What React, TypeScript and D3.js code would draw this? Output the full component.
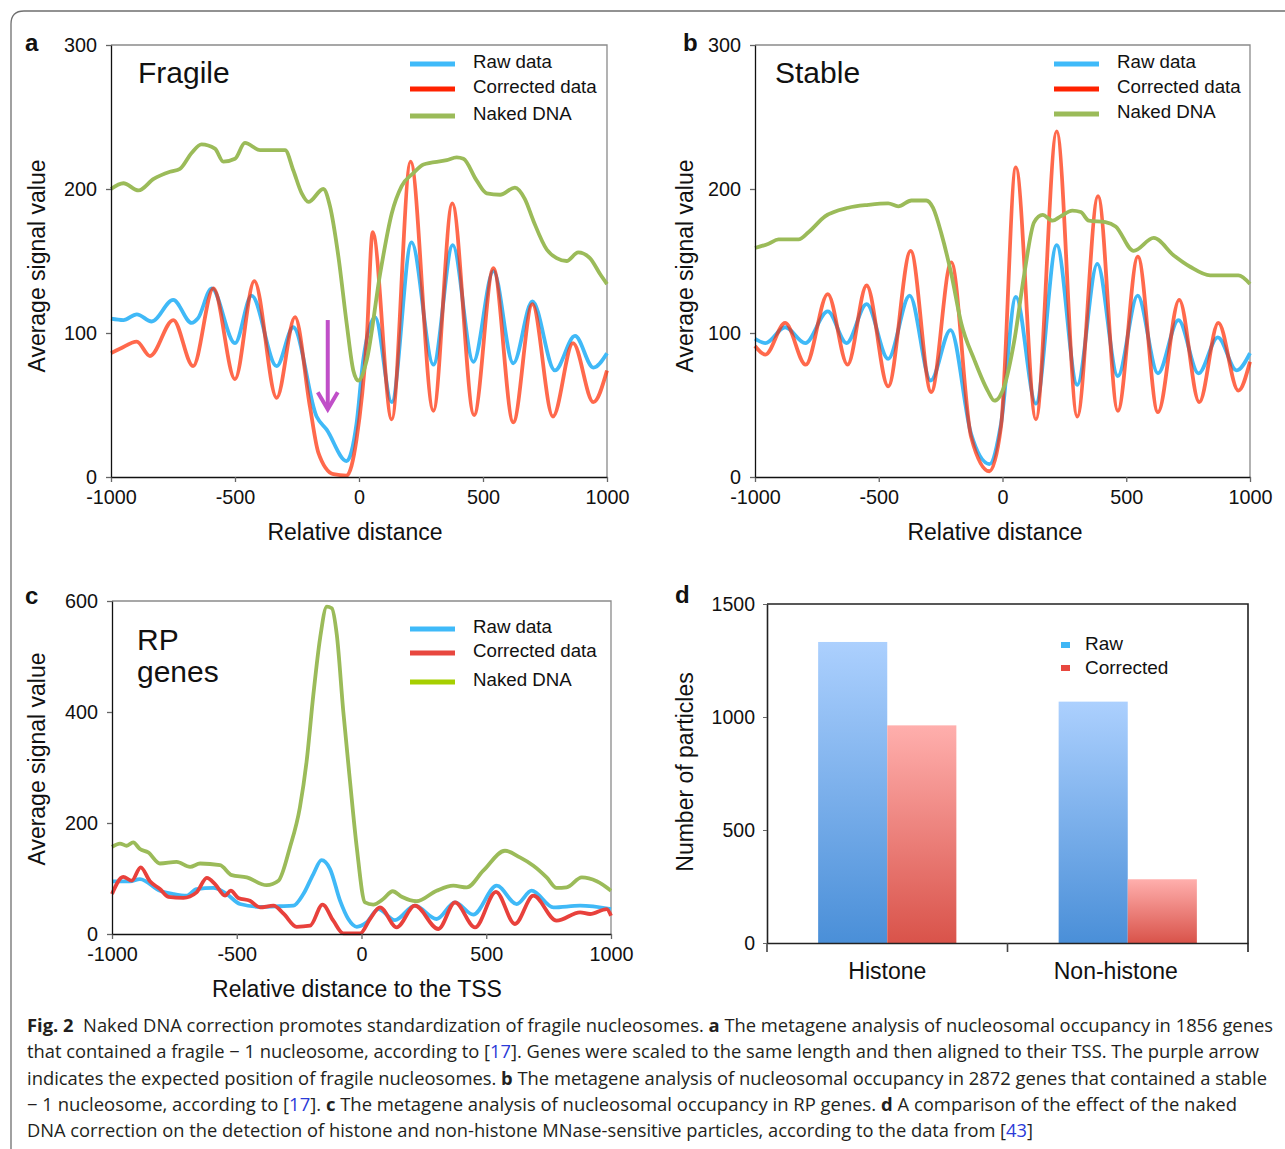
import React, { useEffect, useRef } from 'react';
import * as d3 from 'd3';

type Pt = [number, number];

// ---- data ----
const distanceTicks = [-1000, -500, 0, 500, 1000];
const signalTicksSmall = [0, 100, 200, 300];
const signalTicksLarge = [0, 200, 400, 600];
const lineLegend = ['Raw data', 'Corrected data', 'Naked DNA'];

const fragileRaw: Pt[] = [[-1000,110],[-950,109],[-896,113],[-836,108],[-749,123],[-675,107],[-650,110],[-594,131],[-500,93],[-433,126],[-332,77],[-265,104],[-171,42],[-131,33],[-50,11],[-10,37],[17,81],[65,111],[132,52],[212,163],[300,78],[378,161],[461,80],[542,143],[622,79],[699,122],[790,74],[871,98],[945,76],[1000,86]];
const fragileCorrected: Pt[] = [[-1000,86],[-964,89],[-896,94],[-843,84],[-749,109],[-669,77],[-587,131],[-500,68],[-422,136],[-332,55],[-258,111],[-198,49],[-164,17],[-103,2],[-50,1],[-10,26],[31,95],[55,170],[132,40],[208,219],[300,46],[376,190],[464,43],[542,145],[622,38],[699,120],[782,42],[863,93],[945,52],[1000,74]];
const fragileNaked: Pt[] = [[-1000,200],[-950,204],[-889,199],[-828,207],[-762,212],[-722,214],[-675,225],[-635,231],[-581,228],[-547,219],[-500,221],[-460,232],[-399,227],[-345,227],[-298,227],[-265,213],[-231,197],[-204,191],[-144,200],[-117,188],[-83,153],[-50,107],[-23,74],[-3,67],[31,81],[85,141],[132,183],[172,202],[219,211],[260,217],[354,220],[394,222],[421,221],[474,206],[515,197],[569,196],[629,201],[669,193],[703,178],[757,158],[797,152],[837,150],[884,156],[931,152],[972,141],[1000,134]];

const stableRaw: Pt[] = [[-1000,96],[-958,93],[-878,104],[-797,93],[-706,115],[-630,93],[-549,120],[-462,82],[-375,126],[-290,67],[-210,102],[-127,30],[-53,9],[-6,37],[54,125],[135,51],[219,161],[302,64],[383,148],[466,70],[546,126],[628,72],[711,109],[792,72],[870,97],[946,74],[1000,86]];
const stableCorrected: Pt[] = [[-1000,91],[-958,85],[-878,107],[-795,78],[-706,127],[-626,78],[-549,133],[-462,63],[-371,157],[-288,59],[-207,149],[-127,28],[-53,4],[-6,35],[54,215],[135,40],[219,240],[302,42],[386,195],[466,46],[547,153],[628,45],[714,123],[795,52],[872,107],[953,60],[1000,80]];
const stableNaked: Pt[] = [[-1000,159],[-945,162],[-905,165],[-824,165],[-784,170],[-717,181],[-623,187],[-542,189],[-462,190],[-421,188],[-368,192],[-308,192],[-281,187],[-247,169],[-207,141],[-167,107],[-113,81],[-60,60],[-33,53],[7,63],[48,95],[88,141],[128,177],[162,182],[202,178],[235,181],[282,185],[316,184],[349,178],[416,177],[457,174],[530,157],[611,166],[691,154],[758,146],[839,140],[953,140],[1000,134]];

const rpRaw: Pt[] = [[-1000,95],[-928,95],[-888,99],[-808,78],[-754,72],[-701,69],[-661,81],[-594,83],[-540,72],[-487,54],[-407,49],[-327,50],[-273,51],[-233,72],[-193,108],[-160,133],[-126,117],[-86,60],[-53,27],[-19,13],[21,21],[67,45],[134,25],[214,51],[301,27],[375,57],[448,35],[542,87],[622,54],[682,78],[769,48],[876,51],[1000,45]];
const rpCorrected: Pt[] = [[-1000,72],[-955,103],[-921,96],[-885,120],[-848,95],[-808,81],[-774,67],[-714,65],[-661,75],[-620,101],[-587,90],[-547,69],[-524,78],[-494,65],[-447,60],[-407,48],[-353,51],[-313,37],[-260,13],[-206,15],[-156,53],[-113,24],[-73,1],[-6,1],[34,27],[74,48],[141,12],[214,51],[308,9],[375,57],[455,12],[539,76],[615,18],[689,69],[782,24],[876,39],[916,36],[983,45],[1000,33]];
const rpNaked: Pt[] = [[-1000,157],[-968,163],[-941,159],[-915,165],[-888,153],[-855,147],[-808,127],[-741,130],[-687,121],[-647,127],[-567,124],[-520,106],[-460,102],[-380,88],[-333,96],[-287,156],[-247,228],[-220,311],[-193,431],[-166,533],[-139,590],[-119,587],[-99,539],[-73,401],[-46,275],[-19,156],[14,57],[47,53],[87,63],[125,77],[161,67],[221,59],[301,78],[368,87],[422,84],[488,114],[575,150],[635,138],[689,123],[742,102],[782,83],[822,84],[883,102],[943,95],[1000,78]];

const particleCategories = ['Histone', 'Non-histone'];
const particleKeys = ['Raw', 'Corrected'];
const particleRaw = [1332, 1068];
const particleCorrected = [963, 282];
const particleTicks = [0, 500, 1000, 1500];

// fragile nucleosome arrow (panel a), in data units
const arrowPos = -126;
const arrowFrom = 109;
const arrowTo = 47;

const FONT = 'Liberation Sans, Arial, Helvetica, sans-serif';
const CAPTION_FONT = 'Open Sans, Noto Sans, sans-serif';

function drawLinePanel(svg: any, o: any) {
    const x = d3.scaleLinear().domain([-1000, 1000]).range([o.left, o.right]);
    const y = d3.scaleLinear().domain([0, o.yMax]).range([o.bottom, o.top]);
    const g = svg.append('g');

    // grey frame (top + right)
    g.append('path')
        .attr('d', `M${o.left},${o.top}H${o.right}V${o.bottom}`)
        .attr('fill', 'none')
        .attr('stroke', '#8a8a8a')
        .attr('stroke-width', 1.3);

    const line = d3.line<Pt>()
        .x(d => x(d[0]))
        .y(d => y(d[1]))
        .curve(d3.curveMonotoneX);

    o.series.forEach((s: any) => {
        g.append('path')
            .datum(s.data)
            .attr('fill', 'none')
            .attr('stroke', s.color)
            .attr('stroke-opacity', s.opacity ?? 1)
            .attr('stroke-width', 3.8)
            .attr('stroke-linejoin', 'round')
            .attr('d', line);
    });

    const xAxis = g.append('g')
        .attr('transform', `translate(0,${o.bottom})`)
        .call(d3.axisBottom(x).tickValues(distanceTicks).tickSize(5).tickSizeOuter(0).tickPadding(8).tickFormat((d: any) => String(d)));
    const yAxis = g.append('g')
        .attr('transform', `translate(${o.left},0)`)
        .call(d3.axisLeft(y).tickValues(o.yTicks).tickSize(5).tickSizeOuter(0).tickPadding(9).tickFormat((d: any) => String(d)));
    [xAxis, yAxis].forEach(a => {
        a.attr('font-family', FONT).attr('font-size', 19.8);
        a.select('.domain').attr('stroke', '#111').attr('stroke-width', 1.3);
        a.selectAll('.tick line').attr('stroke', '#666').attr('stroke-width', 1.3);
        a.selectAll('.tick text').attr('fill', '#111');
    });

    // title inside the plot
    o.title.forEach((t: string, i: number) => {
        g.append('text')
            .attr('x', o.titleX)
            .attr('y', o.titleY + i * 32)
            .attr('font-family', FONT)
            .attr('font-size', 30)
            .attr('fill', '#111')
            .text(t);
    });

    // legend
    lineLegend.forEach((name, i) => {
        g.append('line')
            .attr('x1', o.legendX).attr('x2', o.legendX + 45)
            .attr('y1', o.legendYs[i]).attr('y2', o.legendYs[i])
            .attr('stroke', o.legendColors[i])
            .attr('stroke-width', 5);
        g.append('text')
            .attr('x', o.legendX + 63)
            .attr('y', o.legendYs[i] + 4)
            .attr('font-family', FONT)
            .attr('font-size', 18.7)
            .attr('fill', '#111')
            .text(name);
    });

    // axis titles
    g.append('text')
        .attr('x', o.xTitleX)
        .attr('y', o.bottom + 63)
        .attr('text-anchor', 'middle')
        .attr('font-family', FONT)
        .attr('font-size', 23)
        .attr('fill', '#111')
        .text(o.xTitle);
    g.append('text')
        .attr('transform', `translate(${o.yTitleX},${o.yTitleY}) rotate(-90)`)
        .attr('text-anchor', 'middle')
        .attr('font-family', FONT)
        .attr('font-size', 23)
        .attr('fill', '#111')
        .text('Average signal value');

    // panel letter
    g.append('text')
        .attr('x', o.labelX)
        .attr('y', o.labelY)
        .attr('font-family', FONT)
        .attr('font-size', 24)
        .attr('font-weight', 'bold')
        .attr('fill', '#111')
        .text(o.label);

    return { g, x, y };
}

const App = () => {
    const svgRef = useRef<SVGSVGElement | null>(null);

    useEffect(() => {
        if (!svgRef.current) return;
        const svg = d3.select(svgRef.current);
        svg.selectAll('*').remove();

        svg.append('rect').attr('width', 1285).attr('height', 1149).attr('fill', '#fff');

        // outer figure border
        svg.append('path')
            .attr('d', 'M11,1149V24Q11,11 24,11H1285')
            .attr('fill', 'none')
            .attr('stroke', '#6f6f6f')
            .attr('stroke-width', 1.3);

        const abColors = ['#3fbaf9', '#ff2200', '#9bbb59'];

        const a = drawLinePanel(svg, {
            left: 111, right: 607, top: 45, bottom: 477, yMax: 300, yTicks: signalTicksSmall,
            series: [
                { data: fragileRaw, color: '#40b9f7' },
                { data: fragileCorrected, color: '#ff2a00', opacity: 0.7 },
                { data: fragileNaked, color: '#9bbb59' },
            ],
            title: ['Fragile'], titleX: 138, titleY: 83,
            legendX: 410, legendYs: [64, 89, 116], legendColors: abColors,
            xTitle: 'Relative distance', xTitleX: 355, yTitleX: 45, yTitleY: 266,
            label: 'a', labelX: 25, labelY: 51,
        });

        // purple arrow marking the fragile -1 nucleosome
        const ax = a.x(arrowPos);
        a.g.append('line')
            .attr('x1', ax).attr('x2', ax)
            .attr('y1', a.y(arrowFrom)).attr('y2', a.y(arrowTo) - 3)
            .attr('stroke', '#c04fc8').attr('stroke-width', 4);
        a.g.append('polyline')
            .attr('points', `${ax - 10},${a.y(arrowTo) - 17} ${ax},${a.y(arrowTo)} ${ax + 10},${a.y(arrowTo) - 17}`)
            .attr('fill', 'none')
            .attr('stroke', '#c04fc8').attr('stroke-width', 4);

        drawLinePanel(svg, {
            left: 755, right: 1250, top: 45, bottom: 477, yMax: 300, yTicks: signalTicksSmall,
            series: [
                { data: stableRaw, color: '#40b9f7' },
                { data: stableCorrected, color: '#ff2a00', opacity: 0.7 },
                { data: stableNaked, color: '#9bbb59' },
            ],
            title: ['Stable'], titleX: 775, titleY: 83,
            legendX: 1054, legendYs: [64, 89, 114], legendColors: abColors,
            xTitle: 'Relative distance', xTitleX: 995, yTitleX: 693, yTitleY: 266,
            label: 'b', labelX: 683, labelY: 51,
        });

        drawLinePanel(svg, {
            left: 112, right: 611, top: 601, bottom: 934, yMax: 600, yTicks: signalTicksLarge,
            series: [
                { data: rpRaw, color: '#40b9f7' },
                { data: rpCorrected, color: '#e8413c' },
                { data: rpNaked, color: '#9bbb59' },
            ],
            title: ['RP', 'genes'], titleX: 137, titleY: 650,
            legendX: 410, legendYs: [629, 653, 682], legendColors: ['#3fbaf9', '#e8473f', '#a6cf00'],
            xTitle: 'Relative distance to the TSS', xTitleX: 357, yTitleX: 45, yTitleY: 759,
            label: 'c', labelX: 25, labelY: 604,
        });

        // ---- panel d: grouped bars ----
        const dl = 767, dr = 1248, dt = 604, db = 943;
        const defs = svg.append('defs');
        const grads = [['gradRaw', '#acd0fe', '#4a8fd8'], ['gradCorr', '#ffafad', '#d9534a']];
        grads.forEach(([id, c0, c1]) => {
            const lg = defs.append('linearGradient').attr('id', id).attr('x1', 0).attr('y1', 0).attr('x2', 0).attr('y2', 1);
            lg.append('stop').attr('offset', '0%').attr('stop-color', c0);
            lg.append('stop').attr('offset', '100%').attr('stop-color', c1);
        });

        const x0 = d3.scaleBand().domain(particleCategories).range([dl, dr]).padding(0);
        const x1 = d3.scaleBand().domain(particleKeys).range([0, x0.bandwidth()]).paddingInner(0).paddingOuter(0.74);
        const yd = d3.scaleLinear().domain([0, 1500]).range([db, dt]);
        const gd = svg.append('g');

        gd.append('path')
            .attr('d', `M${dl},${dt}H${dr}V${db + 9}`)
            .attr('fill', 'none')
            .attr('stroke', '#222')
            .attr('stroke-width', 1.6);

        const barValues = [particleRaw, particleCorrected];
        particleCategories.forEach((cat, ci) => {
            particleKeys.forEach((k, ki) => {
                const v = barValues[ki][ci];
                gd.append('rect')
                    .attr('x', (x0(cat) as number) + (x1(k) as number))
                    .attr('y', yd(v))
                    .attr('width', x1.bandwidth())
                    .attr('height', db - yd(v))
                    .attr('fill', `url(#${grads[ki][0]})`);
            });
        });

        const dx = gd.append('g')
            .attr('transform', `translate(0,${db})`)
            .call(d3.axisBottom(x0).tickSize(0).tickPadding(20));
        dx.attr('font-family', FONT).attr('font-size', 23);
        dx.select('.domain').attr('stroke', '#222').attr('stroke-width', 1.6);
        dx.selectAll('.tick text').attr('fill', '#111').attr('dx', (_: any, i: number) => (i === 1 ? -12 : 0));
        // band boundary ticks
        [dl, (dl + dr) / 2].forEach(px => {
            gd.append('line').attr('x1', px).attr('x2', px).attr('y1', db).attr('y2', db + 9)
                .attr('stroke', '#444').attr('stroke-width', 1.6);
        });

        const dy = gd.append('g')
            .attr('transform', `translate(${dl},0)`)
            .call(d3.axisLeft(yd).tickValues(particleTicks).tickSize(4).tickSizeOuter(0).tickPadding(8).tickFormat((d: any) => String(d)));
        dy.attr('font-family', FONT).attr('font-size', 19.5);
        dy.select('.domain').attr('stroke', '#222').attr('stroke-width', 1.6);
        dy.selectAll('.tick line').attr('stroke', '#666');
        dy.selectAll('.tick text').attr('fill', '#111');

        gd.append('text')
            .attr('transform', `translate(693,772) rotate(-90)`)
            .attr('text-anchor', 'middle')
            .attr('font-family', FONT)
            .attr('font-size', 23)
            .attr('fill', '#111')
            .text('Number of particles');

        const legendColorsD = ['#3fb6f5', '#e8483f'];
        particleKeys.forEach((k, i) => {
            gd.append('rect')
                .attr('x', 1061).attr('y', 642 + i * 23)
                .attr('width', 9).attr('height', 6)
                .attr('fill', legendColorsD[i]);
            gd.append('text')
                .attr('x', 1085).attr('y', 650 + i * 24)
                .attr('font-family', FONT)
                .attr('font-size', 19)
                .attr('fill', '#111')
                .text(k);
        });

        gd.append('text')
            .attr('x', 675).attr('y', 603)
            .attr('font-family', FONT)
            .attr('font-size', 24)
            .attr('font-weight', 'bold')
            .attr('fill', '#111')
            .text('d');

        // ---- caption ----
        const captionLines: [string, string][][] = [
            [['b', 'Fig. 2'], ['n', '  Naked DNA correction promotes standardization of fragile nucleosomes. '], ['b', 'a'], ['n', ' The metagene analysis of nucleosomal occupancy in 1856 genes']],
            [['n', 'that contained a fragile \u2212 1 nucleosome, according to ['], ['r', '17'], ['n', ']. Genes were scaled to the same length and then aligned to their TSS. The purple arrow']],
            [['n', 'indicates the expected position of fragile nucleosomes. '], ['b', 'b'], ['n', ' The metagene analysis of nucleosomal occupancy in 2872 genes that contained a stable']],
            [['n', '\u2212 1 nucleosome, according to ['], ['r', '17'], ['n', ']. '], ['b', 'c'], ['n', ' The metagene analysis of nucleosomal occupancy in RP genes. '], ['b', 'd'], ['n', ' A comparison of the effect of the naked']],
            [['n', 'DNA correction on the detection of histone and non-histone MNase-sensitive particles, according to the data from ['], ['r', '43'], ['n', ']']],
        ];
        const captionWidths = [1246, 1232, 1240, 1210, 1006];
        captionLines.forEach((parts, i) => {
            const t = svg.append('text')
                .attr('x', 27)
                .attr('y', 1032 + i * 26.3)
                .attr('font-family', CAPTION_FONT)
                .attr('font-size', 17.5)
                .attr('fill', '#231f20')
                .attr('textLength', captionWidths[i])
                .attr('lengthAdjust', 'spacingAndGlyphs')
                .style('white-space', 'pre');
            parts.forEach(([kind, str]) => {
                const ts = t.append('tspan').text(str);
                if (kind === 'b') ts.attr('font-weight', 'bold');
                if (kind === 'r') ts.attr('fill', '#2b3bd8');
            });
        });

        return () => {
            svg.selectAll('*').remove();
        };
    }, []);

    return (
        <svg
            ref={svgRef}
            width={1285}
            height={1149}
            style={{ position: 'absolute', left: 0, top: 0, display: 'block' }}
        />
    );
};

export default App;
